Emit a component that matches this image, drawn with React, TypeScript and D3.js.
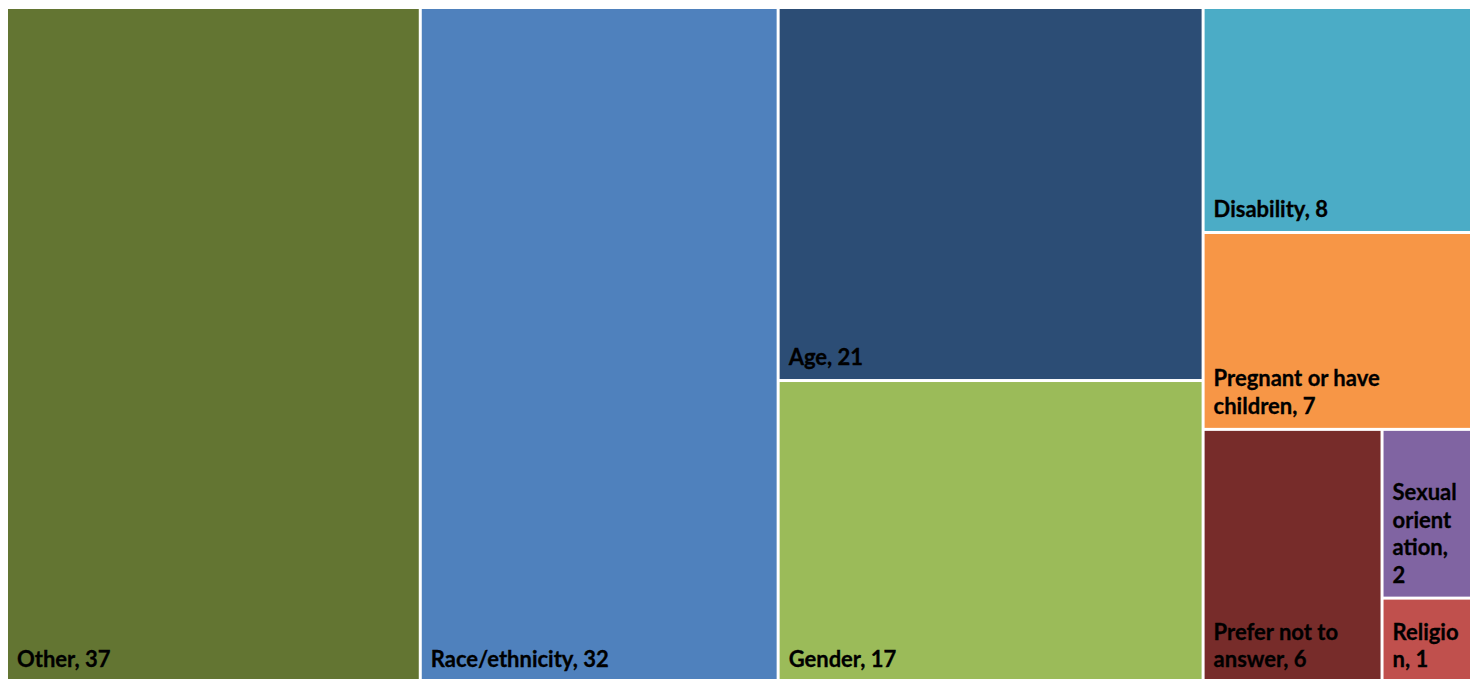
import React from "react";
import * as d3 from "d3";

const categories = ["Other", "Race/ethnicity", "Age", "Gender", "Disability", "Pregnant or have children", "Prefer not to answer", "Sexual orientation", "Religion"];
const values = [37, 32, 21, 17, 8, 7, 6, 2, 1];
const colors = ["#637532", "#4f81bd", "#2c4d75", "#9bbb59", "#4bacc6", "#f79646", "#772c2a", "#8064a2", "#c0504d"];
// label lines as wrapped in the reference
const labelLines = [
  ["Other, 37"],
  ["Race/ethnicity, 32"],
  ["Age, 21"],
  ["Gender, 17"],
  ["Disability, 8"],
  ["Pregnant or have", "children, 7"],
  ["Prefer not to", "answer, 6"],
  ["Sexual", "orient", "ation,", "2"],
  ["Religio", "n, 1"],
];

type N = { dir?: "dice" | "slice"; children?: N[]; idx?: number };

const structure: N = {
  dir: "dice",
  children: [
    { idx: 0 },
    { idx: 1 },
    { dir: "slice", children: [{ idx: 2 }, { idx: 3 }] },
    {
      dir: "slice",
      children: [
        { idx: 4 },
        { idx: 5 },
        { dir: "dice", children: [{ idx: 6 }, { dir: "slice", children: [{ idx: 7 }, { idx: 8 }] }] },
      ],
    },
  ],
};

const W = 1478;
const H = 679;
const X0 = 8, Y0 = 9, X1 = 1470, Y1 = 681;
const FONT = 22;
const LINE = 27.5;

export default function App() {
  const root = d3
    .hierarchy<N>(structure, (d) => d.children)
    .sum((d) => (d.idx !== undefined ? values[d.idx] : 0));

  const tile = (node: any, x0: number, y0: number, x1: number, y1: number) => {
    if (node.data.dir === "slice") d3.treemapSlice(node, x0, y0, x1, y1);
    else d3.treemapDice(node, x0, y0, x1, y1);
  };

  d3.treemap<N>().tile(tile).size([X1 - X0, Y1 - Y0]).paddingInner(3).round(false)(root);

  const leaves = root.leaves() as d3.HierarchyRectangularNode<N>[];

  return (
    <svg width={W} height={H} style={{ position: "absolute", left: 0, top: 0 }}>
      <rect x={0} y={0} width={W} height={H} fill="#ffffff" />
      <g transform={`translate(${X0},${Y0})`}>
        {leaves.map((l) => {
          const i = l.data.idx as number;
          const lines = labelLines[i];
          const bottom = l.y1 - 14;
          return (
            <g key={categories[i]}>
              <rect x={l.x0} y={l.y0} width={l.x1 - l.x0} height={l.y1 - l.y0} fill={colors[i]} />
              <text
                fontFamily="Lato, 'Open Sans', sans-serif"
                fontWeight={700}
                fontSize={FONT}
                fill="#000000"
                stroke="#000000"
                strokeWidth={0.3}
              >
                {lines.map((s, k) => (
                  <tspan key={k} x={l.x0 + 9} y={bottom - (lines.length - 1 - k) * LINE}>
                    {s}
                  </tspan>
                ))}
              </text>
            </g>
          );
        })}
      </g>
    </svg>
  );
}
